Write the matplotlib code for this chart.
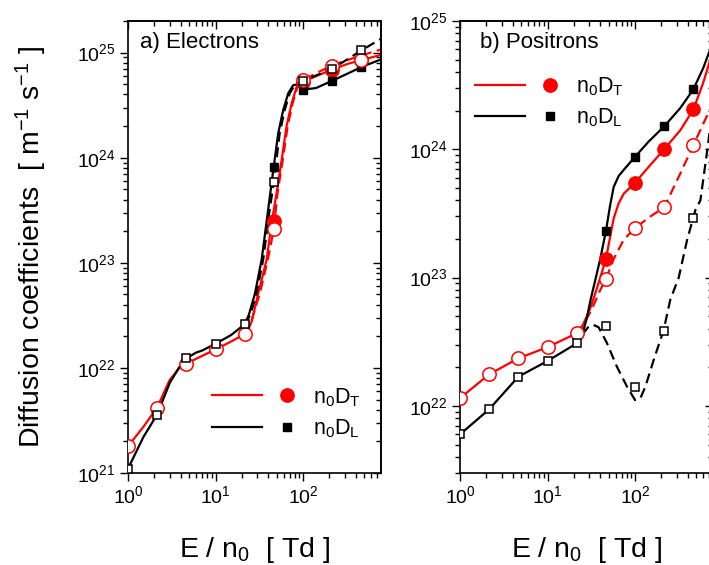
import numpy as np
import matplotlib
matplotlib.use('Agg')
import matplotlib.pyplot as plt
from matplotlib.lines import Line2D
from matplotlib.legend_handler import HandlerTuple
from matplotlib.ticker import LogLocator, NullFormatter

plt.rcParams['font.family'] = ['Liberation Sans', 'DejaVu Sans']
plt.rcParams['mathtext.fontset'] = 'custom'
plt.rcParams['mathtext.rm'] = 'Liberation Sans'
plt.rcParams['mathtext.it'] = 'Liberation Sans:italic'

# E/n0 values of the symbols
x_pts = [1, 2.15, 4.64, 10, 21.5, 46.4, 100, 215, 464]
x_hi = [46.4, 100, 215, 464]

# ---- a) electrons ----
a_DT_open = [1.8e21, 4.2e21, 1.1e22, 1.5e22, 2.1e22, 2.1e23, 5.5e24, 7.4e24, 8.6e24]
a_DL_open = [1.1e21, 3.6e21, 1.23e22, 1.7e22, 2.6e22, 5.9e23, 5.4e24, 7.0e24, 1.05e25]
a_DT_fill = [2.5e23, 5.3e24, 6.9e24, 8.5e24]
a_DL_fill = [8.2e23, 4.4e24, 5.4e24, 7.3e24]

a_red_x = [1, 1.5, 2.15, 3, 3.8, 4.64, 6, 7, 10, 15, 21.5, 24, 26, 30.7, 34.5, 38.3, 43.7,
           49.8, 56.9, 64.6, 74, 84.3, 100, 150, 215, 320, 464, 770]
a_red_y = [1.8e21, 2.75e21, 4.2e21, 7.7e21, 9.8e21, 1.1e22, 1.22e22, 1.3e22, 1.5e22, 1.78e22,
           2.1e22, 2.4e22, 2.8e22, 5.1e22, 7.5e22, 1.07e23, 2.4e23, 4.6e23, 9.5e23, 1.98e24,
           3.3e24, 4.7e24, 5.3e24, 6.1e24, 6.9e24, 7.8e24, 8.5e24, 9.5e24]
a_red_dx = [21.5, 25, 32, 39.5, 46.4, 51, 58.5, 66.5, 76, 86, 100, 215, 464, 770]
a_red_dy = [2.1e22, 2.6e22, 5.1e22, 1.07e23, 2.1e23, 4.6e23, 9.5e23, 1.98e24, 3.3e24, 4.7e24,
            5.5e24, 7.6e24, 9.4e24, 1.07e25]
a_blk_x = [1, 1.5, 2.15, 3, 3.8, 4.64, 6, 7, 10, 15, 21.5, 24, 28.2, 33.6, 39.9, 45.6, 52,
           59.3, 67.6, 77, 88, 100, 140, 215, 320, 464, 770]
a_blk_y = [1.1e21, 2.2e21, 3.6e21, 7.2e21, 1.0e22, 1.23e22, 1.4e22, 1.46e22, 1.7e22, 2.05e22,
           2.6e22, 3.2e22, 5.1e22, 1.07e23, 3.2e23, 7.6e23, 1.71e24, 2.85e24, 4.1e24, 4.9e24,
           5.0e24, 4.45e24, 4.6e24, 5.4e24, 6.3e24, 7.3e24, 8.6e24]
a_blk_dx = [21.5, 25, 29.3, 35, 41.5, 46.4, 54, 61.7, 70.3, 80, 90, 100, 215, 464, 770]
a_blk_dy = [2.6e22, 3.2e22, 5.1e22, 1.07e23, 3.2e23, 5.9e23, 1.71e24, 2.85e24, 4.1e24, 4.9e24,
            5.2e24, 5.4e24, 7.0e24, 1.05e25, 1.35e25]

# ---- b) positrons ----
b_DT_open = [1.15e22, 1.76e22, 2.35e22, 2.87e22, 3.68e22, 9.7e22, 2.44e23, 3.53e23, 1.08e24]
b_DL_open = [6.0e21, 9.4e21, 1.69e22, 2.24e22, 3.07e22, 4.2e22, 1.41e22, 3.86e22, 2.9e23]
b_DT_fill = [1.39e23, 5.5e23, 1.0e24, 2.05e24]
b_DL_fill = [2.3e23, 8.75e23, 1.51e24, 2.94e24]

b_red_x = [1, 2.15, 4.64, 10, 21.5, 25, 30, 35, 40, 46.4, 52, 57, 65, 74, 100, 143, 215,
           329, 464, 600, 740]
b_red_y = [1.15e22, 1.76e22, 2.35e22, 2.87e22, 3.68e22, 4.2e22, 5.5e22, 7.5e22, 1.0e23,
           1.39e23, 2.1e23, 2.9e23, 3.8e23, 4.5e23, 5.5e23, 7.3e23, 1.0e24, 1.41e24, 2.05e24,
           3.3e24, 5.3e24]
b_red_dx = [21.5, 25, 30, 35, 40, 46.4, 57, 74, 100, 149, 215, 329, 464, 740]
b_red_dy = [3.68e22, 4.2e22, 5.2e22, 6.5e22, 8.0e22, 9.7e22, 1.4e23, 1.97e23, 2.44e23,
            2.99e23, 3.53e23, 6.5e23, 1.08e24, 2.15e24]
b_blk_x = [1, 2.15, 4.64, 10, 21.5, 25, 28, 31, 35, 40, 46.4, 52, 57, 65, 74, 100, 143, 215,
           329, 464, 600, 740]
b_blk_y = [6.0e21, 9.4e21, 1.69e22, 2.24e22, 3.07e22, 3.6e22, 4.8e22, 6.7e22, 9.5e22, 1.4e23,
           2.3e23, 3.7e23, 5.1e23, 6.2e23, 6.9e23, 8.75e23, 1.15e24, 1.51e24, 2.1e24, 2.94e24,
           4.3e24, 6.3e24]
b_blk_dx = [25, 29, 33, 38.3, 47.6, 62, 81, 100, 115, 131, 163, 212, 252, 315, 393, 489,
            557, 676, 740]
b_blk_dy = [3.6e22, 4.1e22, 4.3e22, 4.1e22, 3.1e22, 2.02e22, 1.41e22, 1.11e22, 1.15e22,
            1.41e22, 2.28e22, 3.9e22, 6.7e22, 1.0e23, 1.97e23, 3.37e23, 4.0e23, 1.05e24, 1.7e24]

lab_T = r'n$_\mathregular{0}$D$_\mathregular{T}$'
lab_L = r'n$_\mathregular{0}$D$_\mathregular{L}$'

W, H = 709, 565
fig = plt.figure(figsize=(W / 100, H / 100), dpi=100)
ax1 = fig.add_axes([128 / W, 92 / H, 252.7 / W, 452 / H])
ax2 = fig.add_axes([460 / W, 92 / H, 252.7 / W, 452 / H])

lw = 1.6
ms_c = 9.6
ms_s = 6.4


def draw(ax, red, red_d, blk, blk_d, dt_o, dl_o, dt_f, dl_f):
    ax.plot(red[0], red[1], color='red', lw=lw, zorder=2)
    ax.plot(red_d[0], red_d[1], color='red', lw=lw, ls=(0, (4.5, 2.5)), zorder=2)
    ax.plot(blk[0], blk[1], color='black', lw=lw, zorder=2)
    ax.plot(blk_d[0], blk_d[1], color='black', lw=lw, ls=(0, (4.5, 2.5)), zorder=2)
    ax.plot(x_hi, dt_f, ls='none', marker='o', ms=ms_c, color='red', zorder=3)
    ax.plot(x_hi, dl_f, ls='none', marker='s', ms=ms_s, color='black', zorder=3)
    ax.plot(x_pts, dt_o, ls='none', marker='o', ms=ms_c, mfc='white', mec='red', mew=1.1, zorder=4)
    ax.plot(x_pts, dl_o, ls='none', marker='s', ms=ms_s, mfc='white', mec='black', mew=1.1, zorder=4)


def style(ax, xlim, ylim):
    ax.set_xscale('log')
    ax.set_yscale('log')
    ax.set_xlim(*xlim)
    ax.set_ylim(*ylim)
    for s in ax.spines.values():
        s.set_linewidth(1.2)
    ax.tick_params(which='both', direction='out', top=False, right=False,
                   labelsize=14, width=1.0, pad=3)
    ax.tick_params(which='major', length=6)
    ax.tick_params(which='minor', length=3.5)
    ax.xaxis.set_minor_locator(LogLocator(base=10, subs=np.arange(2, 10), numticks=20))
    ax.yaxis.set_minor_locator(LogLocator(base=10, subs=np.arange(2, 10), numticks=20))
    ax.xaxis.set_minor_formatter(NullFormatter())
    ax.yaxis.set_minor_formatter(NullFormatter())
    top = ax.secondary_xaxis('top')
    right = ax.secondary_yaxis('right')
    top.xaxis.set_major_locator(LogLocator(base=10, numticks=20))
    top.xaxis.set_minor_locator(LogLocator(base=10, subs=np.arange(2, 10), numticks=20))
    right.yaxis.set_major_locator(LogLocator(base=10, numticks=20))
    right.yaxis.set_minor_locator(LogLocator(base=10, subs=np.arange(2, 10), numticks=20))
    for sec, axis in ((top, top.xaxis), (right, right.yaxis)):
        axis.set_major_formatter(NullFormatter())
        axis.set_minor_formatter(NullFormatter())
        sec.tick_params(which='both', direction='in', width=1.0)
        sec.tick_params(which='major', length=6)
        sec.tick_params(which='minor', length=3.5)
        for s in sec.spines.values():
            s.set_linewidth(1.2)
    ax.set_xlabel(r'E / n$_\mathregular{0}$  [ Td ]', fontsize=20.5, va='baseline')
    ax.xaxis.set_label_coords(0.5, -0.185)


draw(ax1, (a_red_x, a_red_y), (a_red_dx, a_red_dy), (a_blk_x, a_blk_y), (a_blk_dx, a_blk_dy),
     a_DT_open, a_DL_open, a_DT_fill, a_DL_fill)
draw(ax2, (b_red_x, b_red_y), (b_red_dx, b_red_dy), (b_blk_x, b_blk_y), (b_blk_dx, b_blk_dy),
     b_DT_open, b_DL_open, b_DT_fill, b_DL_fill)

style(ax1, (1, 770), (1e21, 2e25))
style(ax2, (1, 770), (3e21, 1e25))

ax1.text(0.047, 0.94, 'a) Electrons', transform=ax1.transAxes, fontsize=16, va='baseline')
ax2.text(0.08, 0.94, 'b) Positrons', transform=ax2.transAxes, fontsize=16, va='baseline')

h_T = (Line2D([], [], color='red', lw=lw),
       Line2D([], [], ls='none', marker='o', ms=ms_c, color='red'))
h_L = (Line2D([], [], color='black', lw=lw),
       Line2D([], [], ls='none', marker='s', ms=ms_s, color='black'))
for ax, anchor in ((ax1, (0.331, 0.1325)), (ax2, (0.06, 0.82))):
    ax.legend([h_T, h_L], [lab_T, lab_L], handler_map={tuple: HandlerTuple(ndivide=None, pad=0)},
              frameon=False, fontsize=15.5, handlelength=4.65, handletextpad=0.05,
              labelspacing=0.42, loc='center left', bbox_to_anchor=anchor,
              borderaxespad=0, borderpad=0)

fig.text(31 / W, 1 - 246.5 / H, r'Diffusion coefficients  [ m$^{\mathregular{-1}}$ s$^{\mathregular{-1}}$ ]',
         rotation=90, ha='center', va='center', fontsize=20.5)

fig.savefig('out.png', dpi=100)
